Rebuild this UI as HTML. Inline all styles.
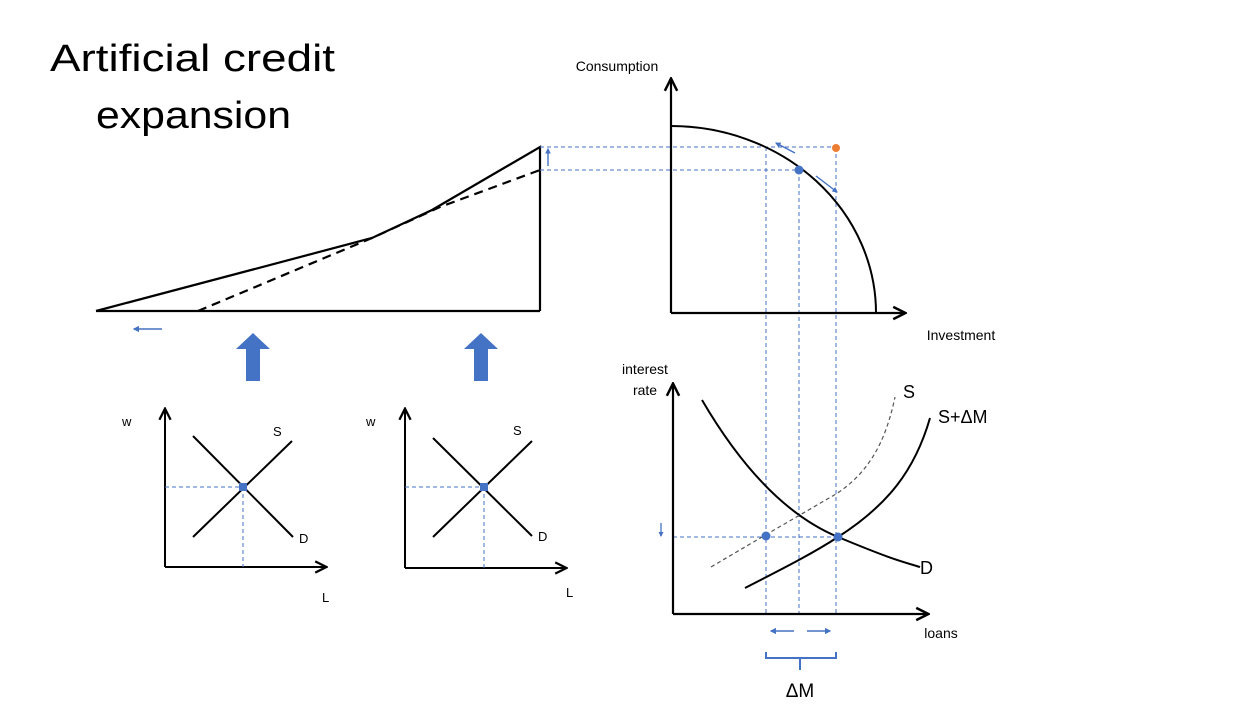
<!DOCTYPE html>
<html><head><meta charset="utf-8"><style>
body{margin:0;background:#fff;}
svg{display:block;font-family:"Liberation Sans",sans-serif;}
</style></head><body>
<svg width="1252" height="704" viewBox="0 0 1252 704">
<defs>
<marker id="ah" viewBox="0 0 10 10" refX="8" refY="5" markerWidth="7" markerHeight="7" orient="auto"><path d="M1,1 L9,5 L1,9" fill="none" stroke="#000" stroke-width="1.6"/></marker>
<marker id="bh" viewBox="0 0 10 10" refX="8" refY="5" markerWidth="4" markerHeight="4" orient="auto" markerUnits="strokeWidth"><path d="M0,0 L10,5 L0,10z" fill="#4472c4"/></marker>
</defs>
<text x="50" y="71" font-size="38" textLength="285" lengthAdjust="spacingAndGlyphs">Artificial credit</text>
<text x="96" y="128" font-size="38" textLength="195" lengthAdjust="spacingAndGlyphs">expansion</text>

<g fill="none" stroke="#000" stroke-width="2.2">
<polyline points="96,311 372,238 432,210 540,147 540,311"/>
<polyline points="198,311 372,238 440,207 540,170" stroke-dasharray="9,6"/>
<line x1="96" y1="311" x2="540" y2="311"/>
</g>
<line x1="162" y1="329" x2="134" y2="329" stroke="#4472c4" stroke-width="1.6" marker-end="url(#bh)"/>
<line x1="548" y1="166" x2="548" y2="149" stroke="#4472c4" stroke-width="1.4" marker-end="url(#bh)"/>
<path d="M246,381 V349 H236 L253,333 L270,349 H260 V381 Z" fill="#4472c4"/>
<path d="M474,381 V349 H464 L481,333 L498,349 H488 V381 Z" fill="#4472c4"/>

<g stroke="#4472c4" stroke-width="1" stroke-dasharray="4,3" fill="none">
<line x1="540" y1="147" x2="836" y2="147"/>
<line x1="540" y1="170" x2="799" y2="170"/>
<line x1="766" y1="147" x2="766" y2="614"/>
<line x1="799" y1="170" x2="799" y2="614"/>
<line x1="836" y1="147" x2="836" y2="614"/>
<line x1="673" y1="537" x2="838" y2="537"/>
</g>

<g>
<line x1="671" y1="313" x2="671" y2="80" stroke="#000" stroke-width="2.2" marker-end="url(#ah)"/>
<line x1="671" y1="313" x2="904" y2="313" stroke="#000" stroke-width="2.2" marker-end="url(#ah)"/>
<path d="M671,126 A205,187 0 0 1 876,313" fill="none" stroke="#000" stroke-width="2"/>
<circle cx="836" cy="148" r="4" fill="#ed7d31"/>
<circle cx="799" cy="170" r="4.5" fill="#4472c4"/>
<line x1="795" y1="153" x2="776" y2="143" stroke="#4472c4" stroke-width="1.4" marker-end="url(#bh)"/>
<line x1="816" y1="176" x2="837" y2="192" stroke="#4472c4" stroke-width="1.4" marker-end="url(#bh)"/>
<text x="617" y="71" font-size="14" text-anchor="middle">Consumption</text>
<text x="961" y="340" font-size="14" text-anchor="middle">Investment</text>
</g>

<g>
<line x1="673" y1="614" x2="673" y2="385" stroke="#000" stroke-width="2.2" marker-end="url(#ah)"/>
<line x1="673" y1="614" x2="927" y2="614" stroke="#000" stroke-width="2.2" marker-end="url(#ah)"/>
<path d="M702,400 C740,465 785,515 838,537 S900,561 920,567" fill="none" stroke="#000" stroke-width="2"/>
<path d="M745,588 C790,565 815,552 838,537 C888,505 915,470 930,418" fill="none" stroke="#000" stroke-width="2"/>
<path d="M711,567 C760,538 800,515 836,494 C870,472 886,440 895,397" fill="none" stroke="#555" stroke-width="1.2" stroke-dasharray="4,3"/>
<circle cx="766" cy="536" r="4.5" fill="#4472c4"/>
<circle cx="838" cy="537" r="4.5" fill="#4472c4"/>
<line x1="661" y1="523" x2="661" y2="536" stroke="#4472c4" stroke-width="1.3" marker-end="url(#bh)"/>
<line x1="794" y1="631" x2="771" y2="631" stroke="#4472c4" stroke-width="1.6" marker-end="url(#bh)"/>
<line x1="807" y1="631" x2="830" y2="631" stroke="#4472c4" stroke-width="1.6" marker-end="url(#bh)"/>
<path d="M766,652 V658 H836 V652 M800,658 V670" fill="none" stroke="#4472c4" stroke-width="2"/>
<text x="800" y="697" font-size="19" text-anchor="middle">ΔM</text>
<text x="645" y="374" font-size="14" text-anchor="middle">interest</text>
<text x="645" y="395" font-size="14" text-anchor="middle">rate</text>
<text x="941" y="638" font-size="14" text-anchor="middle">loans</text>
<text x="903" y="398" font-size="18">S</text>
<text x="938" y="423" font-size="18">S+ΔM</text>
<text x="920" y="574" font-size="18">D</text>
</g>

<g font-size="13">
<line x1="165" y1="567" x2="165" y2="410" stroke="#000" stroke-width="2" marker-end="url(#ah)"/>
<line x1="165" y1="567" x2="325" y2="567" stroke="#000" stroke-width="2" marker-end="url(#ah)"/>
<line x1="165" y1="487" x2="243" y2="487" stroke="#4472c4" stroke-dasharray="4,3"/>
<line x1="243" y1="487" x2="243" y2="567" stroke="#4472c4" stroke-dasharray="4,3"/>
<line x1="193" y1="537" x2="292" y2="441" stroke="#000" stroke-width="2"/>
<line x1="193" y1="436" x2="293" y2="537" stroke="#000" stroke-width="2"/>
<rect x="239" y="483" width="8" height="8" fill="#4472c4"/>
<text x="122" y="426">w</text><text x="273" y="436">S</text><text x="299" y="543">D</text><text x="322" y="602">L</text>
</g>
<g font-size="13">
<line x1="405" y1="568" x2="405" y2="410" stroke="#000" stroke-width="2" marker-end="url(#ah)"/>
<line x1="405" y1="568" x2="565" y2="568" stroke="#000" stroke-width="2" marker-end="url(#ah)"/>
<line x1="405" y1="487" x2="484" y2="487" stroke="#4472c4" stroke-dasharray="4,3"/>
<line x1="484" y1="487" x2="484" y2="568" stroke="#4472c4" stroke-dasharray="4,3"/>
<line x1="433" y1="537" x2="532" y2="441" stroke="#000" stroke-width="2"/>
<line x1="433" y1="438" x2="532" y2="536" stroke="#000" stroke-width="2"/>
<rect x="480" y="483" width="8" height="8" fill="#4472c4"/>
<text x="366" y="426">w</text><text x="513" y="435">S</text><text x="538" y="541">D</text><text x="566" y="597">L</text>
</g>
</svg>
</body></html>
